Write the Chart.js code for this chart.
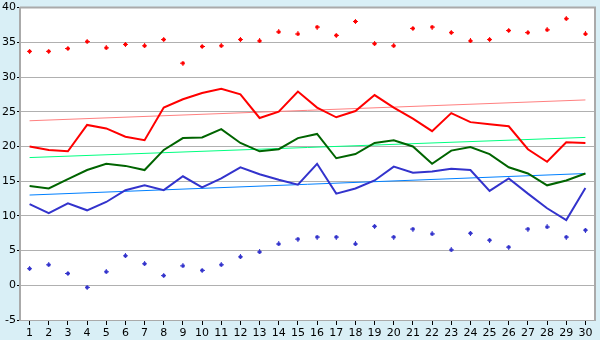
<!DOCTYPE html>
<html>
<head>
<meta charset="utf-8">
<script src="https://cdn.jsdelivr.net/npm/chart.js@4"></script>
<style>
html,body{margin:0;padding:0;background:#d9eff6;}
#wrap{width:600px;height:340px;position:relative;}
</style>
</head>
<body>
<div id="wrap"><canvas id="c" width="600" height="340"></canvas></div>
<script>
const days = ['1','2','3','4','5','6','7','8','9','10','11','12','13','14','15','16','17','18','19','20','21','22','23','24','25','26','27','28','29','30'];
const yTicks = [-5,0,5,10,15,20,25,30,35,40];
const absMax = [33.7,33.7,34.1,35.1,34.2,34.7,34.5,35.4,32.0,34.4,34.5,35.4,35.2,36.5,36.2,37.2,36.0,38.0,34.8,34.5,37.0,37.2,36.4,35.2,35.4,36.7,36.4,36.8,38.4,36.2];
const meanHigh = [20.0,19.5,19.3,23.1,22.6,21.4,20.9,25.6,26.8,27.7,28.3,27.5,24.1,25.0,27.9,25.6,24.2,25.1,27.4,25.6,24.0,22.2,24.8,23.5,23.2,22.9,19.6,17.8,20.6,20.5];
const meanAvg = [14.3,13.95,15.3,16.6,17.5,17.2,16.6,19.5,21.2,21.3,22.5,20.5,19.3,19.6,21.2,21.8,18.3,18.9,20.5,20.9,20.0,17.5,19.4,19.9,18.9,17.0,16.1,14.4,15.1,16.1];
const meanLow = [11.7,10.4,11.8,10.8,12.0,13.7,14.4,13.7,15.7,14.1,15.4,17.0,16.0,15.2,14.5,17.5,13.2,13.95,15.1,17.1,16.2,16.4,16.8,16.6,13.6,15.4,13.2,11.1,9.4,14.0];
const absMin = [2.4,2.95,1.7,-0.3,1.95,4.25,3.1,1.4,2.8,2.15,2.95,4.1,4.8,5.95,6.65,6.95,6.95,5.95,8.5,6.95,8.1,7.4,5.1,7.5,6.5,5.5,8.1,8.4,6.95,7.95];
const trendHigh = [23.7,26.7];
const trendAvg = [18.4,21.3];
const trendLow = [13.0,16.1];

function marker(color){
  const c=document.createElement('canvas');c.width=5;c.height=5;
  const x=c.getContext('2d');x.fillStyle=color;
  x.fillRect(1,1,3,3);x.fillRect(0,2,5,1);x.fillRect(2,0,1,5);
  return c;
}
function trendData(t){return [{x:days[0],y:t[0]},{x:days[days.length-1],y:t[1]}];}

const bgPlugin={id:'bg',beforeDraw(ch){const {ctx,chartArea:a}=ch;ctx.save();ctx.fillStyle='#d9eff6';ctx.fillRect(0,0,ch.width,ch.height);ctx.fillStyle='#ffffff';ctx.fillRect(a.left,a.top,a.right-a.left,a.bottom-a.top);ctx.restore();},
 afterDraw(ch){const {ctx,chartArea:a}=ch;ctx.save();ctx.strokeStyle='#aaaaaa';ctx.lineWidth=2;ctx.beginPath();ctx.moveTo(a.left,a.top);ctx.lineTo(a.right,a.top);ctx.lineTo(a.right,a.bottom);ctx.stroke();ctx.restore();}};

Chart.defaults.font.family='"DejaVu Sans", Verdana, sans-serif';
Chart.defaults.font.size=11;
Chart.defaults.color='#000000';

new Chart(document.getElementById('c'),{
  type:'line',
  data:{labels:days,datasets:[
    {data:trendData(trendHigh),borderColor:'#ff8080',borderWidth:1,pointRadius:0,order:6},
    {data:trendData(trendAvg),borderColor:'#00ff80',borderWidth:1,pointRadius:0,order:6},
    {data:trendData(trendLow),borderColor:'#0080ff',borderWidth:1,pointRadius:0,order:6},
    {data:meanHigh,borderColor:'#ff0000',borderWidth:2,pointRadius:0,order:3},
    {data:meanAvg,borderColor:'#006400',borderWidth:2,pointRadius:0,order:3},
    {data:meanLow,borderColor:'#3333cc',borderWidth:2,pointRadius:0,order:3},
    {data:absMax,showLine:false,pointStyle:marker('#ff0000'),pointRadius:3,order:1},
    {data:absMin,showLine:false,pointStyle:marker('#3333cc'),pointRadius:3,order:1}
  ]},
  options:{
    responsive:false,animation:false,
    layout:{padding:{top:5,right:5,left:0,bottom:0}},
    plugins:{legend:{display:false},tooltip:{enabled:false}},
    elements:{line:{tension:0}},
    scales:{
      x:{offset:true,
        grid:{offset:false,drawOnChartArea:false,drawTicks:true,tickLength:5,tickColor:'#000000'},
        border:{color:'#aaaaaa',width:1},
        ticks:{padding:2,maxRotation:0,autoSkip:false},
        afterFit(s){s.height=20;}
      },
      y:{min:-5,max:40,
        afterBuildTicks(s){s.ticks=yTicks.map(v=>({value:v}));},
        grid:{color:'#b0b0b0',tickLength:3,tickColor:'#000000'},
        border:{color:'#aaaaaa',width:2},
        ticks:{padding:1},
        afterFit(s){s.width=20;}
      }
    }
  },
  plugins:[bgPlugin]
});
</script>
</body>
</html>
